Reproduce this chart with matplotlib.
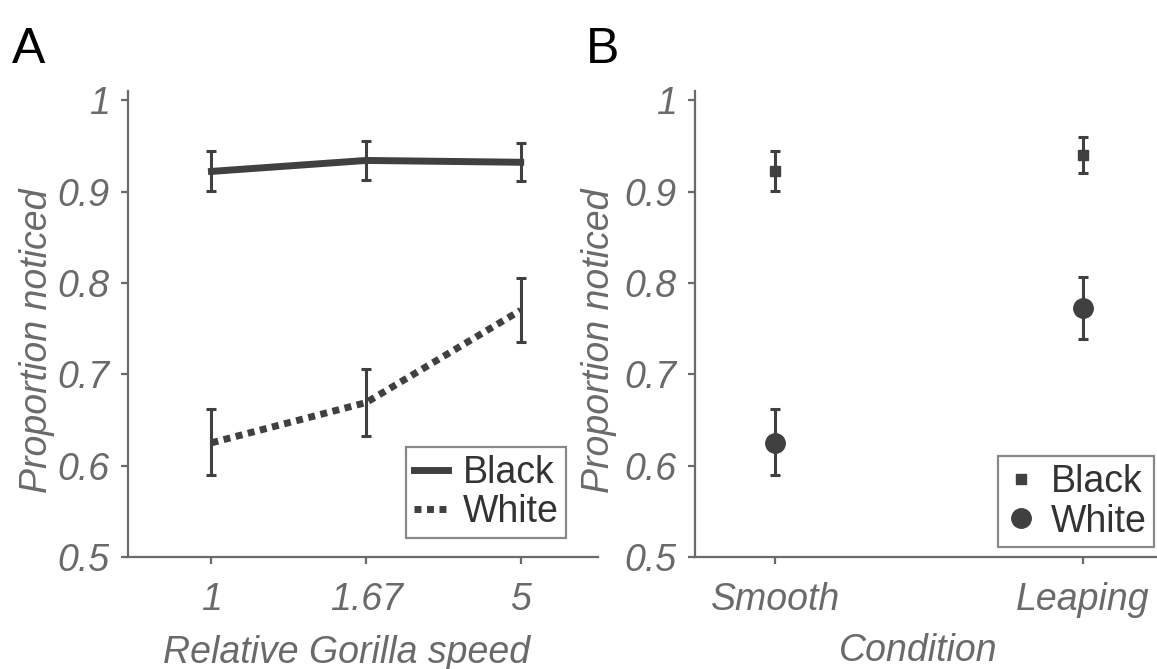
import matplotlib
matplotlib.use("Agg")
import matplotlib.pyplot as plt
from matplotlib.lines import Line2D

# ---- data ----
speed_labels = ["1", "1.67", "5"]
black_speed = [0.922, 0.934, 0.932]
black_speed_lo = [0.901, 0.913, 0.911]
black_speed_hi = [0.944, 0.955, 0.953]
white_speed = [0.625, 0.669, 0.770]
white_speed_lo = [0.590, 0.632, 0.735]
white_speed_hi = [0.662, 0.706, 0.805]

cond_labels = ["Smooth", "Leaping"]
black_cond = [0.922, 0.940]
black_cond_lo = [0.901, 0.920]
black_cond_hi = [0.944, 0.960]
white_cond = [0.625, 0.772]
white_cond_lo = [0.590, 0.739]
white_cond_hi = [0.662, 0.806]

yticks = [0.5, 0.6, 0.7, 0.8, 0.9, 1.0]
ytick_labels = ["0.5", "0.6", "0.7", "0.8", "0.9", "1"]

plt.rcParams['font.family'] = ['Liberation Sans', 'DejaVu Sans']

W, H = 1157, 669
fig = plt.figure(figsize=(W / 100, H / 100), dpi=100)

gray = "#6a6a6a"
dark = "#404040"
fs = 27
dots = (0, (1.0, 0.8))

def style(ax):
    for s in ["top", "right"]:
        ax.spines[s].set_visible(False)
    for s in ["left", "bottom"]:
        ax.spines[s].set_color(gray)
        ax.spines[s].set_linewidth(1.6)
    ax.tick_params(direction="out", length=5, width=1.6, color=gray,
                   labelcolor=gray, labelsize=fs)
    ax.tick_params(axis="x", pad=13)
    ax.tick_params(axis="y", pad=8)
    ax.set_ylim(0.5, 1.01)
    ax.set_yticks(yticks)
    ax.set_yticklabels(ytick_labels, fontstyle="italic")
    ax.set_ylabel("Proportion noticed", fontsize=fs, color=gray,
                  fontstyle="italic")

def err(v, lo, hi):
    return [[a - b for a, b in zip(v, lo)], [c - a for a, c in zip(v, hi)]]

# ---- panel A ----
axA = fig.add_axes([128 / W, (H - 557) / H, 470 / W, 466 / H])
xs = list(range(1, len(speed_labels) + 1))
axA.errorbar(xs, black_speed, yerr=err(black_speed, black_speed_lo, black_speed_hi),
             color=dark, lw=5, elinewidth=2.2, capsize=3.8, capthick=2.2)
axA.errorbar(xs, white_speed, yerr=err(white_speed, white_speed_lo, white_speed_hi),
             color=dark, lw=5, ls=dots, elinewidth=2.2, capsize=3.8, capthick=2.2)
axA.set_xlim(0.46, 3.5)
axA.set_xticks(xs)
axA.set_xticklabels(speed_labels, fontstyle="italic")
style(axA)
axA.set_xlabel("Relative Gorilla speed", fontsize=fs, color=gray, fontstyle="italic")
axA.xaxis.set_label_coords((347 - 128) / 470, -(653 - 557) / 466)
axA.xaxis.label.set_va("center")
axA.yaxis.set_label_coords(-(128 - 37) / 470, (557 - 341) / 466)
axA.yaxis.label.set_va("center")
hA = [Line2D([], [], color=dark, lw=5),
      Line2D([], [], color=dark, lw=5, ls=dots)]
legA = axA.legend(hA, ["Black", "White"], loc="lower right",
                  bbox_to_anchor=(1.0 - 32 / 470, 19 / 466), fontsize=fs,
                  frameon=True, fancybox=False, edgecolor=gray,
                  handlelength=0.9, handletextpad=0.4, labelspacing=0.1,
                  borderpad=0.2, borderaxespad=0.0)
legA.get_frame().set_linewidth(1.6)
for t in legA.get_texts():
    t.set_color("#333333")

# ---- panel B ----
axB = fig.add_axes([695 / W, (H - 557) / H, 462 / W, 466 / H])
xc = list(range(1, len(cond_labels) + 1))
axB.errorbar(xc, black_cond, yerr=err(black_cond, black_cond_lo, black_cond_hi),
             color=dark, ls="none", marker="s", ms=6.5, elinewidth=2.2,
             capsize=3.8, capthick=2.2)
axB.errorbar(xc, white_cond, yerr=err(white_cond, white_cond_lo, white_cond_hi),
             color=dark, ls="none", marker="o", ms=14, elinewidth=2.2,
             capsize=3.8, capthick=2.2)
axB.set_xlim(0.74, 2.24)
axB.set_xticks(xc)
axB.set_xticklabels(cond_labels, fontstyle="italic")
style(axB)
axB.set_xlabel("Condition", fontsize=fs, color=gray, fontstyle="italic")
axB.xaxis.set_label_coords((918 - 695) / 462, -(651 - 557) / 466)
axB.xaxis.label.set_va("center")
axB.yaxis.set_label_coords(-(695 - 599) / 462, (557 - 341) / 466)
axB.yaxis.label.set_va("center")
hB = [Line2D([], [], color=dark, ls="none", marker="s", ms=6.5),
      Line2D([], [], color=dark, ls="none", marker="o", ms=14)]
legB = axB.legend(hB, ["Black", "White"], loc="lower right",
                  bbox_to_anchor=(1.0 - 3 / 462, 10 / 466), fontsize=fs,
                  frameon=True, fancybox=False, edgecolor=gray,
                  handlelength=0.8, handletextpad=0.4, labelspacing=0.1,
                  borderpad=0.2, borderaxespad=0.0)
legB.get_frame().set_linewidth(1.6)
for t in legB.get_texts():
    t.set_color("#333333")

# panel letters
fig.text(12 / W, 1 - 50 / H, "A", fontsize=36, color="black", va="center", ha="left")
fig.text(586 / W, 1 - 50 / H, "B", fontsize=36, color="black", va="center", ha="left")

fig.savefig("out.png", dpi=100, facecolor="white")
